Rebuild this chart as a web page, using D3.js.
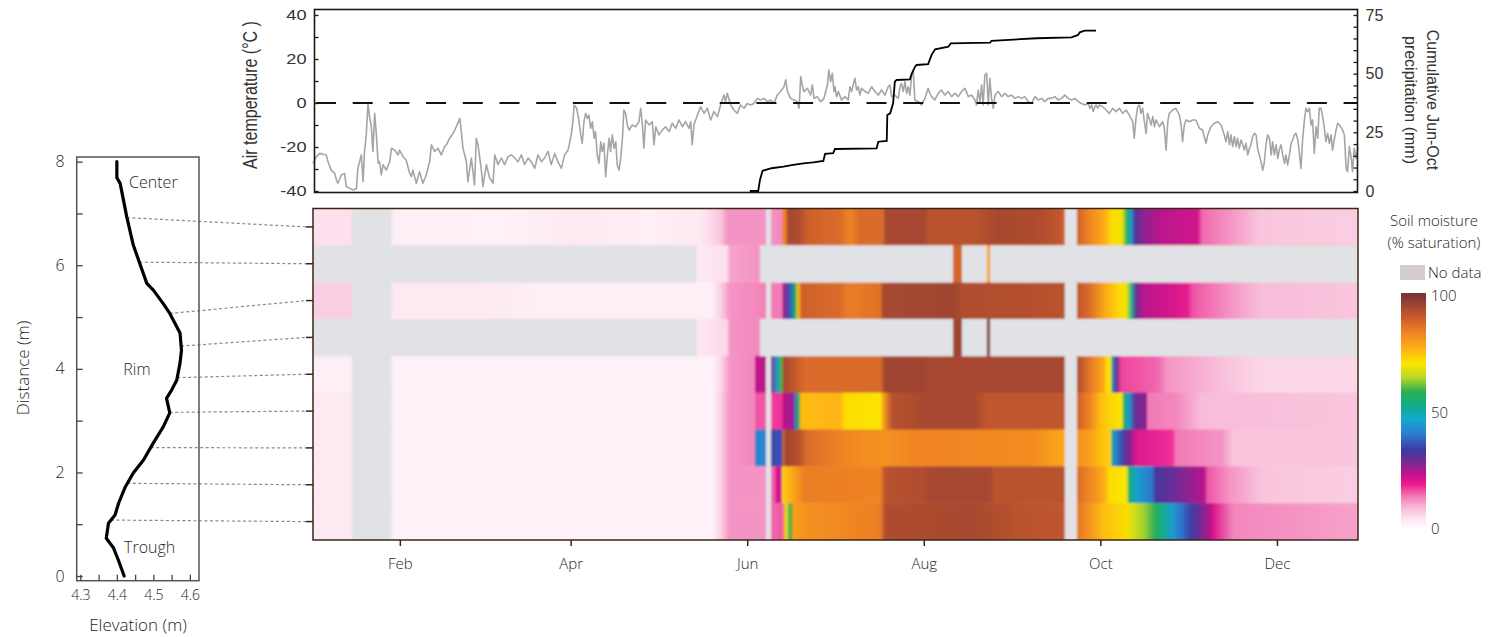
<!DOCTYPE html>
<html>
<head>
<meta charset="utf-8">
<script src="https://cdn.jsdelivr.net/npm/d3@7"></script>
<style>
  html, body { margin: 0; padding: 0; background: #fff; }
  svg { display: block; }
  .lt { font-family: 'Open Sans', 'Noto Sans', sans-serif; font-weight: 300; fill: #262626; }
  .ar { font-family: 'Liberation Sans', Arial, sans-serif; fill: #333; }
</style>
</head>
<body>
<svg id="chart" width="1496" height="637"></svg>
<script>
// ---------------- data ----------------
const YEAR = 2013;

// Air temperature, [day of year, °C]
const tempJanMar = [[2.0,-27.4],[3.2,-24.4],[4.3,-22.9],[5.5,-23.3],[6.6,-23.6],[7.2,-26.7],[8.3,-30.5],[9.5,-32],[10.1,-35],[10.6,-36.5],[11.8,-32.7],[12.9,-32],[13.5,-38],[14.7,-38.8],[15.8,-39.5],[17.0,-39],[17.5,-29.7],[18.7,-23.6],[19.3,-35.8],[19.8,-22],[20.4,-14.5],[21.0,0],[21.6,-7],[22.1,-10],[22.7,-22],[23.3,-4.7],[23.9,-14.5],[24.5,-27.4],[25.0,-26.7],[25.6,-32.7],[26.2,-28],[27.3,-30.5],[28.5,-26.7],[29.1,-20.6],[30.2,-21.4],[31.4,-23.6],[31.9,-21.4],[33.1,-24.4],[34.2,-26],[35.4,-32],[36.0,-33.5],[36.5,-30.5],[37.7,-36.5],[38.8,-31.2],[40.0,-36.5],[41.1,-32.7],[42.3,-26.7],[42.9,-19],[44.0,-22],[45.2,-20.6],[46.3,-23.6],[47.5,-19.8],[48.1,-19],[49.2,-16],[50.4,-13.8],[51.5,-10.8],[52.7,-7],[53.2,-12.3],[53.8,-20.6],[55.0,-26.7],[55.5,-35.8],[56.7,-25],[57.8,-37.3],[58.4,-16],[59.0,-19],[60.1,-29.7],[60.7,-38],[61.9,-28],[63.0,-34],[64.2,-36.5],[64.8,-23.6],[65.9,-28],[67.1,-25],[68.2,-28],[69.4,-24.4],[70.5,-23.6],[71.7,-25],[72.8,-26.7],[74.0,-23.6],[75.1,-28],[76.3,-25],[77.4,-26.7],[78.6,-29.7],[79.7,-23.6],[80.9,-26.7],[82.0,-25],[83.2,-22],[84.3,-28],[85.5,-22.9],[86.6,-26.7],[87.8,-29.7],[88.9,-23.6],[90.1,-21.4],[91.2,-14.5],[91.8,-8.5]];
const tempAprJun = [[92.2,-0.9],[93.1,-2.4],[93.9,-8.5],[94.5,-14.5],[95.0,-18.3],[95.6,-8.5],[96.2,-4.7],[96.8,-7],[97.3,-5.5],[97.9,-11.5],[98.5,-8.5],[99.1,-16],[99.6,-13],[100.2,-23.6],[100.8,-27.4],[101.4,-17.6],[101.9,-22],[102.5,-18.3],[103.1,-33.5],[103.7,-23.6],[104.3,-16],[104.8,-22],[105.4,-14.5],[106.0,-20.6],[106.6,-17.6],[107.1,-28.2],[107.7,-30.5],[108.3,-25.2],[108.9,-16],[109.4,-3.2],[110.0,-4.7],[110.6,-10],[111.2,-12.3],[112.3,-10],[113.5,-10.8],[114.6,-8.5],[115.2,-2.4],[115.8,-10],[116.3,-20.6],[116.9,-7.7],[118.1,-10],[119.2,-8.5],[119.8,-19],[120.4,-10.8],[121.5,-14.5],[122.7,-12.3],[123.8,-10.8],[125.0,-13],[126.1,-9.2],[127.3,-11.5],[128.4,-7.7],[129.6,-10.8],[130.7,-8.5],[131.9,-11.5],[132.5,-8.5],[133.0,-19],[133.6,-10],[134.8,-5.5],[135.9,-1.7],[137.1,-4.7],[138.2,-2.4],[139.4,-7.7],[140.5,-3.9],[141.7,-6.2],[142.8,-0.9],[144.0,3.6],[144.5,0.6],[145.1,4.4],[146.3,-0.9],[147.4,-3.2],[148.6,-4.7],[149.7,-0.9],[150.9,-2.4],[152.0,-0.2],[153.2,-0.9],[154.3,-0.2],[155.5,2.1],[156.6,1.4],[157.8,2.1],[158.9,0.6],[160.1,1.4],[161.2,-0.2],[162.4,3.6],[163.5,5.2],[164.7,7.4],[165.3,10.5],[165.9,5.2],[167.0,2.1],[168.2,1.4],[169.3,0.6],[169.9,-2.4],[170.5,12],[171.0,8.2],[171.6,5.2],[172.8,6.7],[173.9,3.6],[174.5,8.2],[175.1,2.1],[176.2,2.9],[177.4,0.6],[178.5,2.1],[179.1,5.2],[179.7,8.2],[180.2,15],[180.8,9.7],[181.4,13.5],[182.0,5.2]];
const tempJulSep = [[182.3,7.4],[182.9,2.9],[183.5,5.2],[184.6,1.4],[185.8,2.9],[186.9,1.4],[187.5,7.4],[188.1,5.2],[188.6,8.2],[189.2,11.2],[189.8,5.9],[190.4,7.4],[190.9,3.6],[191.5,6.7],[192.7,5.2],[193.8,4.4],[195.0,7.4],[196.1,5.2],[197.3,3.6],[198.4,5.9],[199.6,3.6],[200.7,7.4],[201.3,8.2],[201.9,2.9],[203.0,3.6],[204.2,2.1],[204.8,7.4],[205.3,8.9],[205.9,5.2],[206.5,9.7],[207.1,4.4],[207.6,7.4],[208.2,3.6],[208.8,12.7],[209.4,14.2],[209.9,1.4],[211.1,0.6],[212.2,-0.9],[213.4,2.1],[214.5,6.7],[215.1,4.4],[215.7,2.9],[216.8,1.4],[218.0,4.4],[219.1,5.9],[220.3,3.6],[221.4,5.2],[222.6,2.9],[223.8,4.4],[224.9,2.9],[226.1,5.2],[227.2,6.7],[228.4,2.9],[229.5,3.6],[230.7,1.4],[231.2,-0.9],[231.8,5.9],[232.4,0.6],[233.0,8.2],[233.5,-0.9],[234.1,12.7],[234.7,13.5],[235.3,-0.9],[235.8,11.2],[236.4,2.1],[237.0,-2.4],[237.6,3.6],[238.7,5.2],[239.9,2.9],[241.0,4.4],[242.2,2.9],[243.3,3.6],[244.5,2.1],[245.6,2.9],[246.8,2.1],[247.9,2.9],[249.1,0.6],[250.2,-0.2],[251.4,2.9],[252.5,1.4],[253.7,2.1],[254.8,0.6],[256.0,2.1],[257.1,2.1],[258.3,2.9],[259.4,1.4],[260.6,2.1],[261.7,3.6],[262.9,2.1],[264.1,1.4],[265.2,2.1],[266.4,0.6],[267.5,-0.2],[268.7,-0.9],[269.8,-0.2],[270.4,-2.4],[271.0,-0.9],[271.5,-3.9],[272.1,-1.7]];
const tempOctDec = [[272.5,-0.9],[273.1,-2.4],[273.7,-0.9],[274.8,-1.7],[276.0,-3.2],[277.1,-4.7],[278.3,-2.4],[279.4,-3.9],[280.6,-2.4],[281.7,-4.7],[282.9,-3.2],[284.0,-5.5],[285.2,-8.5],[285.7,-16],[286.3,-7],[286.9,-1.7],[287.5,-0.9],[288.0,-4.7],[288.6,-2.4],[289.2,-8.5],[289.8,-13.8],[290.3,-4.7],[290.9,-7],[291.5,-10],[292.1,-6.2],[292.7,-10.8],[293.2,-7.7],[294.4,-10.8],[295.5,-8.5],[296.1,-11.5],[296.7,-21.4],[297.3,-8.5],[297.8,-4.7],[299.0,-3.2],[300.1,-2.4],[301.3,-5.5],[301.9,-10],[302.4,-17.6],[303.0,-10],[303.6,-7.7],[304.7,-8.5],[305.9,-7.7],[307.0,-7.7],[308.2,-11.5],[309.3,-12.3],[310.5,-18.3],[311.1,-14.5],[312.2,-10.8],[313.4,-9.2],[314.5,-8.5],[315.7,-10],[316.8,-14.5],[317.4,-17.6],[318.0,-13],[318.6,-19],[319.1,-14.5],[319.7,-19.8],[320.3,-15.3],[320.9,-19.8],[321.4,-16],[322.0,-20.6],[322.6,-16.8],[323.2,-19],[323.7,-21.4],[324.3,-18.3],[324.9,-23.6],[325.5,-20.6],[326.0,-19],[326.6,-15.3],[327.2,-13.8],[327.8,-14.5],[328.3,-20.6],[328.9,-23.6],[329.5,-26.7],[330.1,-30.5],[330.6,-27.4],[331.2,-19],[331.8,-14.5],[332.4,-16],[333.0,-23.6],[333.5,-17.6],[334.1,-23.6],[334.7,-19],[335.3,-25.2],[335.8,-21.4],[336.4,-19],[337.0,-23.6],[337.6,-27.4],[338.1,-23.6],[338.7,-28.2],[339.3,-23.6],[339.9,-18.3],[340.4,-16.8],[341.0,-14.5],[341.6,-13.8],[342.2,-16.8],[342.7,-22],[343.3,-29.7],[343.9,-16],[344.5,-7.7],[345.0,-2.4],[345.6,-3.9],[346.2,-2.4],[346.8,-10],[347.3,-7.7],[347.9,-22.9],[348.5,-10.8],[349.1,-16],[349.6,-2.4],[350.2,-2.4],[350.8,-6.2],[351.4,-11.5],[351.9,-17.6],[352.5,-13.8],[353.1,-18.3],[353.7,-14.5],[354.2,-21.4],[354.8,-16.8],[355.4,-12.3],[356.0,-9.2],[356.6,-10],[357.7,-12.3],[358.3,-14.5],[358.9,-29.7],[359.4,-31.2],[360.0,-19.8],[360.6,-24.4],[361.1,-31.2],[361.7,-20.6],[362.3,-25.2],[363.0,-19.8]];

// Cumulative June-October precipitation, [day of year, mm]
const precipCum = [[152.9,0],[155.8,0],[156.4,4.7],[157.3,8.6],[160.4,9.7],[164.5,10.4],[167.9,11.1],[171.4,11.8],[174.8,12.2],[178.3,12.8],[178.9,15.8],[181.7,16.1],[182.3,17.9],[196.7,18.2],[197.3,21],[200.2,21.3],[200.4,32.4],[201.4,33.1],[202.4,37.4],[203,46.6],[203.6,47.3],[208.2,47.6],[208.8,49.9],[210,53],[210.5,53.7],[214.5,54.1],[215.7,58],[216.9,60.4],[221.5,61.5],[222.3,62.9],[235.9,63.2],[236.4,64],[252,65.1],[264,65.5],[266.3,66.5],[266.9,67.6],[268.6,68.3],[272.5,68.3]];

// Elevation profile along the transect
const profileElev = [4.400,4.400,4.409,4.427,4.445,4.482,4.500,4.527,4.545,4.573,4.577,4.573,4.564,4.550,4.536,4.545,4.527,4.500,4.473,4.445,4.423,4.405,4.395,4.377,4.371,4.391,4.404,4.420];
const profileDist = [8.00,7.69,7.58,6.94,6.39,5.65,5.52,5.26,5.07,4.69,4.36,4.11,3.78,3.59,3.43,3.15,2.88,2.57,2.24,1.99,1.72,1.41,1.18,1.02,0.73,0.54,0.31,0.00];
// zone name, distance, elevation at which the name sits
const zoneLabels = [["Center", 7.6, 4.50], ["Rim", 4.0, 4.455], ["Trough", 0.56, 4.49]];

// Soil moisture sensors (distance along transect, m), top row first
const sensorDist = [6.92, 6.06, 5.07, 4.44, 3.83, 3.16, 2.48, 1.79, 1.08];

// Soil moisture (% saturation), [day of year, value] per sensor
const moistureRow0 = [[2,5],[15,5],[29,3],[67,2],[91,4],[118,3],[136,4],[143,8],[145,12],[156,12],[160,12],[164,13],[164.3,84],[165.5,85],[165.8,95],[170,94],[173,90],[184,88],[187.5,84],[191,88],[199,88],[199.6,95],[213,95],[215,93],[231,93],[239,95],[253,94],[260,92],[261,90],[266,90],[270,84],[275.6,78],[278,72],[281.5,70],[283.2,57],[284.6,46],[286,32],[288.7,27],[294.6,24],[307.7,22],[309.1,15],[318.7,12],[329,8],[363,7]];
const moistureRow1 = [[134.6,4],[145,5],[146,11],[156.4,12],[223.1,89],[226.2,89],[234.8,80],[235.9,80]];
const moistureRow2 = [[2,7],[15,7],[29,4],[60,4],[80,3],[140,3],[143,7],[146,12],[156,13],[160.2,14],[164,14],[164.5,26],[166.8,37],[168.5,55],[169.6,75],[170.8,90],[184,88],[187,85],[198,87],[199,95],[223,96],[226,94],[261,93],[266,92],[270,88],[276,78],[281,72],[283,70],[285,52],[286.3,30],[288.7,24],[304,20],[306,16],[318.7,12],[329,9],[363,8]];
const moistureRow3 = [[134.6,4],[145,6],[146,12],[156.4,13],[223.1,96],[226.2,96],[234.8,100],[235.9,100]];
const moistureRow4 = [[2,3],[15,3],[29,2],[140,2],[143,6],[146,12],[154.5,13],[154.7,23],[158.5,24],[160.2,27],[162,44],[163.8,60],[164.7,95],[170,90],[172,88],[198,88],[199.6,96],[213,96],[215,95],[261,95],[266,94],[271,85],[275.5,78],[276,72],[277.6,72],[278,50],[279.5,30],[281.3,17],[294,15],[297,12],[318.7,8],[330,6],[363,6]];
const moistureRow5 = [[2,4],[15,4],[29,2],[140,2],[143,7],[146,12],[154.5,13],[155,16],[158.5,16],[160.2,17],[164,18],[164.5,24],[168,26],[168.5,40],[170,60],[170.5,76],[184,77],[186,72],[198,71],[199,80],[202,93],[213,95],[230,95],[235,92],[261,92],[266,90],[271,83],[274,76],[277.5,73],[281.5,71],[282,57],[284,45],[286,30],[290,27],[290.3,14],[300,13],[309,9],[363,8]];
const moistureRow6 = [[2,4],[15,4],[29,2],[140,2],[143,7],[146,12],[154.5,13],[154.7,42],[158.5,42],[160.2,36],[164,36],[164.3,88],[165.5,96],[170,93],[172.5,88],[185,84],[199,82],[210,84],[250,83],[258,80],[261,79],[266,82],[270,80],[275,75],[277.5,74],[278,50],[280,40],[281.5,36],[283,30],[285,26],[286,21],[299,18],[300,14],[316,12],[320,8],[363,8]];
const moistureRow7 = [[2,4],[15,4],[29,2],[140,2],[143,7],[146,12],[158.5,12],[160.2,15],[161.5,16],[162,22],[163.8,22],[164,73],[165.5,76],[168.5,80],[172,85],[198,84],[199.6,93],[213,94],[215,95],[236,95],[237,93],[261,93],[266,88],[271,83],[275.5,78],[277,72],[283,71],[284,55],[286.5,46],[292,40],[293,33],[299,30],[310,24],[311,16],[318.7,12],[330,8],[363,7]];
const moistureRow8 = [[2,4],[15,4],[29,2],[140,2],[143,7],[146,12],[158.5,12],[160.2,15],[164,16],[165.5,70],[166.8,58],[168,80],[172,82],[190,84],[198,85],[199.6,94],[230,95],[245,93],[261,92],[266,86],[270,82],[275,76],[283,72],[285,68],[289,64],[293,58],[296,52],[299,45],[302,40],[305,35],[308,30],[312,24],[313,21],[320,13],[363,11]];

// Periods without data, [first day, last day]
const gapsAllSensors = [[15.4,29.2],[158.5,160.2],[261.7,265.9]];
const gapsRow1 = [[2,134.6],[156.4,223.1],[226.2,234.8],[235.9,363]];
const gapsRow3 = [[2,134.6],[156.4,223.1],[226.2,234.8],[235.9,363]];

// Axis ticks and colour ramp
const monthTicks = ["2013-02-01","2013-04-01","2013-06-01","2013-08-01","2013-10-01","2013-12-01"];
const tempTicks = [-40, -20, 0, 20, 40];
const precipTicks = [0, 25, 50, 75];
const moistureTicks = [0, 50, 100];
const distTicks = [0, 2, 4, 6, 8];
const elevTicks = [4.3, 4.4, 4.5, 4.6];
const rampValues = [0, 4, 9, 14, 19, 23, 28, 34, 41, 47, 53, 59, 65, 71, 77, 84, 91, 100];
const rampColors = ["#fffbfd","#fde9f2","#f8bcd8","#f27ab6","#ee1e8e","#c8108c","#7e2890","#3c3aa2","#2e7ed2","#14a8cc","#10aa8a","#2cb050","#b8d828","#fbe500","#ffb414","#f08424","#c85a2c","#7e3434"];

// ---------------- drawing ----------------
const svg = d3.select("#chart");
const defs = svg.append("defs");
const dayToDate = d => new Date(Date.UTC(YEAR, 0, 1) + (d - 1) * 864e5);

const x = d3.scaleUtc().domain([dayToDate(2), dayToDate(363)]).range([313, 1358]);
const xd = d => x(dayToDate(d));
const [X0, X1] = x.range();

// ---- top panel: air temperature & cumulative precipitation ----
const yTemp = d3.scaleLinear().domain([-40, 40]).range([191, 15]);
const yPrecip = d3.scaleLinear().domain([0, 75]).range([191, 15]);
const topTop = 9.5, topBottom = 192.5;

const airTemp = tempJanMar.concat(tempAprJun, tempJulSep, tempOctDec);

svg.append("path")
  .datum(airTemp)
  .attr("fill", "none")
  .attr("stroke", "#a5a5a5")
  .attr("stroke-width", 1.6)
  .attr("stroke-linejoin", "round")
  .attr("d", d3.line().x(d => xd(d[0])).y(d => yTemp(d[1])));

svg.append("line")
  .attr("x1", X0 + 3).attr("x2", X1 - 1)
  .attr("y1", yTemp(0)).attr("y2", yTemp(0))
  .attr("stroke", "#111").attr("stroke-width", 2)
  .attr("stroke-dasharray", "20,16.7");

svg.append("path")
  .datum(precipCum)
  .attr("fill", "none")
  .attr("stroke", "#000")
  .attr("stroke-width", 1.8)
  .attr("d", d3.line().x(d => xd(d[0])).y(d => yPrecip(d[1])));

svg.append("rect")
  .attr("x", X0 + 1.5).attr("y", topTop)
  .attr("width", X1 - X0 - 2).attr("height", topBottom - topTop)
  .attr("fill", "none").attr("stroke", "#1a1a1a").attr("stroke-width", 1.6);

const axL = svg.append("g").attr("transform", `translate(${X0 + 1.5},0)`)
  .call(d3.axisLeft(yTemp).tickValues(d3.range(-40, 41, 10)).tickSize(-4).tickPadding(8)
    .tickFormat(d => tempTicks.includes(d) ? d : ""));
axL.select(".domain").remove();
axL.selectAll(".tick line").attr("stroke", "#1a1a1a").attr("stroke-width", 1.3);
axL.selectAll(".tick text").attr("class", "ar").style("font-size", "14px")
  .attr("transform", "scale(1.3,1)")
  .attr("x", -8 / 1.3);

const axR = svg.append("g").attr("transform", `translate(${X1 - 0.5},0)`)
  .call(d3.axisRight(yPrecip).tickValues(d3.range(0, 76, 5)).tickSize(-4).tickPadding(8)
    .tickFormat(d => precipTicks.includes(d) ? d : ""));
axR.select(".domain").remove();
axR.selectAll(".tick line").attr("stroke", "#1a1a1a").attr("stroke-width", 1.3);
axR.selectAll(".tick text").attr("class", "ar").style("font-size", "16px");

svg.append("text").attr("class", "ar")
  .attr("transform", "translate(257,95) scale(1.25,1) rotate(-90)")
  .attr("text-anchor", "middle").style("font-size", "16px")
  .text("Air temperature  (°C )");
svg.append("text").attr("class", "ar")
  .attr("transform", "translate(1427,100) rotate(90)")
  .attr("text-anchor", "middle").style("font-size", "16px")
  .text("Cumulative Jun-Oct");
svg.append("text").attr("class", "ar")
  .attr("transform", "translate(1405,100) rotate(90)")
  .attr("text-anchor", "middle").style("font-size", "16px")
  .text("precipitation (mm)");

// ---- heatmap: soil moisture per sensor ----
const moistureRows = [moistureRow0, moistureRow1, moistureRow2, moistureRow3, moistureRow4,
                      moistureRow5, moistureRow6, moistureRow7, moistureRow8];
const rowGaps = moistureRows.map((_, i) =>
  gapsAllSensors.concat(i === 1 ? gapsRow1 : i === 3 ? gapsRow3 : []));

const color = d3.scaleLinear().domain(rampValues).range(rampColors)
  .interpolate(d3.interpolateRgb).clamp(true);

const yRow = d3.scaleBand().domain(d3.range(sensorDist.length)).range([208.5, 540]);
const hmTop = 208.5, hmBottom = 540;

moistureRows.forEach((row, i) => {
  const g = defs.append("linearGradient")
    .attr("id", "moist" + i)
    .attr("gradientUnits", "userSpaceOnUse")
    .attr("x1", X0).attr("x2", X1).attr("y1", 0).attr("y2", 0);
  g.selectAll("stop").data(row).join("stop")
    .attr("offset", d => (xd(d[0]) - X0) / (X1 - X0))
    .attr("stop-color", d => color(d[1]));
});

// the sensor record is smoothed slightly when rendered
defs.append("filter").attr("id", "soft")
  .attr("x", "-2%").attr("y", "-2%").attr("width", "104%").attr("height", "104%")
  .append("feGaussianBlur").attr("stdDeviation", 1.1);
defs.append("clipPath").attr("id", "hmClip")
  .append("rect").attr("x", X0).attr("y", hmTop).attr("width", X1 - X0).attr("height", hmBottom - hmTop);

const heat = svg.append("g").attr("clip-path", "url(#hmClip)")
  .append("g").attr("filter", "url(#soft)");
heat.selectAll("rect.row").data(moistureRows).join("rect")
  .attr("class", "row")
  .attr("x", X0 - 4).attr("width", X1 - X0 + 8)
  .attr("y", (d, i) => i === 0 ? yRow(i) - 4 : yRow(i))
  .attr("height", (d, i) => yRow.bandwidth() + 0.5 + (i === 0 || i === 8 ? 4 : 0))
  .attr("fill", (d, i) => `url(#moist${i})`);

const gapCells = rowGaps.flatMap((gs, i) => gs.map(g => ({ row: i, a: g[0], b: g[1] })));
heat.selectAll("rect.gap").data(gapCells).join("rect")
  .attr("class", "gap")
  .attr("x", d => d.a <= 2 ? X0 - 4 : xd(d.a))
  .attr("width", d => (d.b >= 363 ? X1 + 4 : xd(d.b)) - (d.a <= 2 ? X0 - 4 : xd(d.a)))
  .attr("y", d => d.row === 0 ? yRow(d.row) - 4 : yRow(d.row))
  .attr("height", d => yRow.bandwidth() + 0.5 + (d.row === 0 || d.row === 8 ? 4 : 0))
  .attr("fill", "#e1e2e5");

svg.append("rect")
  .attr("x", X0).attr("y", hmTop).attr("width", X1 - X0).attr("height", hmBottom - hmTop)
  .attr("fill", "none").attr("stroke", "#3b2417").attr("stroke-width", 1.5);

svg.append("g").selectAll("line").data(sensorDist).join("line")
  .attr("x1", X0 - 7).attr("x2", X0)
  .attr("y1", (d, i) => yRow(i) + yRow.bandwidth() / 2)
  .attr("y2", (d, i) => yRow(i) + yRow.bandwidth() / 2)
  .attr("stroke", "#3b2417").attr("stroke-width", 1.5);

const axB = svg.append("g").attr("transform", `translate(0,${hmBottom})`)
  .call(d3.axisBottom(x).tickValues(monthTicks.map(s => new Date(s + "T00:00:00Z")))
    .tickFormat(d3.utcFormat("%b")).tickSize(6).tickPadding(12));
axB.select(".domain").remove();
axB.selectAll(".tick line").attr("stroke", "#3b2417").attr("stroke-width", 1.5);
axB.selectAll(".tick text").attr("class", "lt").style("font-size", "15px");

// ---- colour legend ----
const legendY = d3.scaleLinear().domain([0, 100]).range([529, 296]);
const lg = defs.append("linearGradient").attr("id", "legendRamp")
  .attr("gradientUnits", "userSpaceOnUse")
  .attr("x1", 0).attr("x2", 0).attr("y1", legendY(0)).attr("y2", legendY(100));
lg.selectAll("stop").data(rampValues).join("stop")
  .attr("offset", d => d / 100).attr("stop-color", d => color(d));

svg.append("rect").attr("x", 1401).attr("y", legendY(100) - 3)
  .attr("width", 25).attr("height", legendY(0) - legendY(100) + 1)
  .attr("fill", "url(#legendRamp)");
svg.append("rect").attr("x", 1400).attr("y", 265).attr("width", 25).attr("height", 15)
  .attr("fill", "#d4cdcb");
svg.append("text").attr("class", "lt").attr("x", 1428).attr("y", 278)
  .style("font-size", "15px").text("No data");
svg.append("g").selectAll("text").data(moistureTicks).join("text")
  .attr("class", "lt").attr("x", 1431).attr("y", d => legendY(d) + 5)
  .style("font-size", "15px").text(d => d);
svg.append("text").attr("class", "lt").attr("x", 1434).attr("y", 226)
  .attr("text-anchor", "middle").style("font-size", "15px").text("Soil moisture");
svg.append("text").attr("class", "lt").attr("x", 1434).attr("y", 248)
  .attr("text-anchor", "middle").style("font-size", "15px").text("(% saturation)");

// ---- elevation profile panel ----
const xElev = d3.scaleLinear().domain([4.29, 4.625]).range([76.7, 199]);
const yDist = d3.scaleLinear().domain([-0.09, 8.09]).range([580.7, 157]);
const profile = profileDist.map((d, i) => [profileElev[i], d]);

// connectors from the profile to each sensor row
const byDist = profile.slice().sort((a, b) => a[1] - b[1]);
const elevAt = dist => {
  const i = d3.bisector(p => p[1]).left(byDist, dist);
  const p1 = byDist[Math.min(i, byDist.length - 1)], p0 = byDist[Math.max(i - 1, 0)];
  const t = p1[1] === p0[1] ? 0 : (dist - p0[1]) / (p1[1] - p0[1]);
  return p0[0] + t * (p1[0] - p0[0]);
};
svg.append("g").selectAll("line").data(sensorDist).join("line")
  .attr("x1", d => xElev(elevAt(d))).attr("y1", d => yDist(d))
  .attr("x2", X0 - 7).attr("y2", (d, i) => yRow(i) + yRow.bandwidth() / 2)
  .attr("stroke", "#8a8a8a").attr("stroke-width", 1.2).attr("stroke-dasharray", "3,2.5");

svg.append("rect")
  .attr("x", 76.7).attr("y", 157).attr("width", 199 - 76.7).attr("height", 580.7 - 157)
  .attr("fill", "none").attr("stroke", "#555").attr("stroke-width", 1.5);

const axD = svg.append("g").attr("transform", "translate(76.7,0)")
  .call(d3.axisLeft(yDist).tickValues(d3.range(0, 9, 1)).tickSize(-6).tickPadding(12)
    .tickFormat(d => distTicks.includes(d) ? d : ""));
axD.select(".domain").remove();
axD.selectAll(".tick line").attr("stroke", "#444").attr("stroke-width", 1.3);
axD.selectAll(".tick text").attr("class", "lt").style("font-size", "16px");

const axE = svg.append("g").attr("transform", "translate(0,580.7)")
  .call(d3.axisBottom(xElev).tickValues(d3.range(4.3, 4.61, 0.05)).tickSize(-6).tickPadding(9)
    .tickFormat(d => elevTicks.some(t => Math.abs(t - d) < 1e-6) ? d3.format(".1f")(d) : ""));
axE.select(".domain").remove();
axE.selectAll(".tick line").attr("stroke", "#444").attr("stroke-width", 1.3);
axE.selectAll(".tick text").attr("class", "lt").style("font-size", "14px");

svg.append("path").datum(profile)
  .attr("fill", "none").attr("stroke", "#000").attr("stroke-width", 3.2)
  .attr("stroke-linejoin", "round").attr("stroke-linecap", "round")
  .attr("d", d3.line().x(d => xElev(d[0])).y(d => yDist(d[1])));

svg.append("g").selectAll("text").data(zoneLabels).join("text")
  .attr("class", "lt").attr("text-anchor", "middle")
  .attr("x", d => xElev(d[2])).attr("y", d => yDist(d[1]) + 6)
  .style("font-size", "16px").text(d => d[0]);

svg.append("text").attr("class", "lt")
  .attr("transform", "translate(29,368) rotate(-90)")
  .attr("text-anchor", "middle").style("font-size", "17px").text("Distance (m)");
svg.append("text").attr("class", "lt")
  .attr("x", 138).attr("y", 631)
  .attr("text-anchor", "middle").style("font-size", "17px").text("Elevation (m)");
</script>
</body>
</html>
